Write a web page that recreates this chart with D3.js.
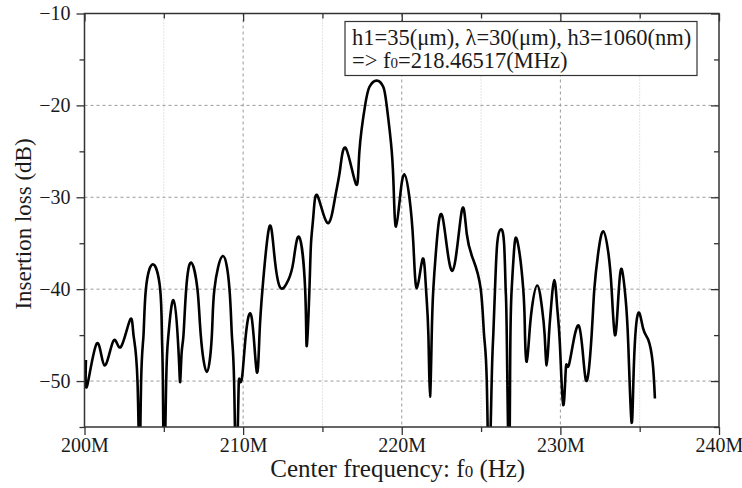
<!DOCTYPE html>
<html lang="en">
<head>
<meta charset="utf-8">
<title>Insertion loss</title>
<script src="https://cdn.jsdelivr.net/npm/d3@7"></script>
<style>
  body { margin: 0; background: #fff; }
  text { font-family: "Liberation Serif", "Times New Roman", serif; fill: #1a1a1a; }
</style>
</head>
<body>
<script>
// frequency (MHz) and insertion loss (dB); -60 marks nulls that drop below the frame
var freqMHz = [200.09, 200.17, 200.78, 201.26, 201.83, 202.29, 202.88, 203.09, 203.34, 203.47,
  203.57, 203.72, 203.87, 204.31, 204.77, 204.88, 204.94, 205.02, 205.15, 205.29,
  205.61, 205.92, 206.03, 206.12, 206.24, 206.41, 206.72, 207.12, 207.33, 207.71,
  208.03, 208.19, 208.72, 209.14, 209.29, 209.43, 209.56, 209.70, 209.77, 209.94,
  210.17, 210.54, 210.86, 211.03, 211.22, 211.64, 211.95, 212.33, 212.85, 213.17,
  213.53, 213.91, 214.01, 214.18, 214.28, 214.43, 214.68, 215.31, 215.80, 216.11,
  216.49, 217.12, 217.33, 217.69, 217.96, 218.42, 218.84, 219.05, 219.37, 219.51,
  219.64, 219.89, 220.16, 220.48, 220.73, 220.95, 221.32, 221.53, 221.68, 221.78,
  221.89, 221.99, 222.20, 222.58, 223.19, 223.78, 224.10, 224.51, 224.98, 225.19,
  225.36, 225.50, 225.67, 225.77, 225.88, 226.02, 226.24, 226.45, 226.55, 226.62,
  226.76, 226.84, 226.93, 227.07, 227.28, 227.66, 227.77, 227.88, 228.04, 228.21,
  228.54, 228.84, 229.01, 229.14, 229.28, 229.41, 229.62, 229.80, 229.97, 230.18,
  230.35, 230.56, 231.17, 231.61, 231.97, 232.14, 232.39, 232.70, 233.02, 233.23,
  233.44, 233.65, 233.86, 234.11, 234.28, 234.49, 234.64, 234.91, 235.22, 235.54,
  235.82, 235.96];
var lossDB = [-47.7, -50.5, -45.9, -48.3, -45.6, -46.3, -43.3, -45.0, -50.0, -60,
  -50, -45, -40, -37.3, -40, -45, -50, -60, -50, -45,
  -41.2, -46.5, -50.1, -47.0, -45, -40, -37.1, -40, -45, -49.0,
  -45, -40, -36.4, -40, -45, -50, -60, -52, -49.9, -49.5,
  -45, -43.1, -49.0, -45, -40, -33.3, -36, -39.8, -39.0, -37,
  -34.3, -40, -46.2, -40, -35, -32, -29.8, -32.8, -30, -27,
  -24.7, -28.6, -25, -20, -18, -17.3, -18, -20, -25, -30,
  -33.2, -30, -27.5, -30, -35, -39.9, -36.7, -40, -45, -51.7,
  -45, -40, -35, -32.2, -38.0, -31.5, -34, -36.8, -40, -45,
  -50, -60, -50, -45, -40, -35, -33.5, -35, -40, -45,
  -60, -47, -40, -36, -34.7, -40, -45, -47.9, -45, -42,
  -39.6, -42, -45, -48.3, -45, -42, -39.0, -42, -46, -52.6,
  -48.5, -48.1, -44.0, -49.9, -45, -40, -36, -33.7, -36, -40,
  -45.0, -41, -37.8, -41, -46, -54.5, -48, -42.6, -44.3, -45.5,
  -48, -51.9];

var xMajor = [200, 210, 220, 230, 240];
var xMinor = [205, 215, 225, 235];
var yMajor = [-10, -20, -30, -40, -50];
var yMinor = [-15, -25, -35, -45, -55];

var legendLines = ["h1=35(\u03bcm), \u03bb=30(\u03bcm), h3=1060(nm)", "=> f0=218.46517(MHz)"];

var width = 742, height = 488;
var pL = 84.5, pR = 719, pT = 13.5, pB = 427;

var x = d3.scaleLinear().domain([200, 240]).range([pL, pR]);
var y = d3.scaleLinear().domain([-55, -10]).range([pB, pT]);

var svg = d3.select("body").append("svg")
  .attr("width", width)
  .attr("height", height);

// grid
svg.append("g").selectAll("line")
  .data(xMinor).enter().append("line")
  .attr("x1", d => x(d)).attr("x2", d => x(d))
  .attr("y1", pT).attr("y2", pB)
  .attr("stroke", "#c8c8c8").attr("stroke-width", 1)
  .attr("stroke-dasharray", "1,2");
svg.append("g").selectAll("line")
  .data(xMajor.slice(1, -1)).enter().append("line")
  .attr("x1", d => x(d)).attr("x2", d => x(d))
  .attr("y1", pT).attr("y2", pB)
  .attr("stroke", "#9a9a9a").attr("stroke-width", 1)
  .attr("stroke-dasharray", "3,3");
svg.append("g").selectAll("line")
  .data(yMajor.slice(1)).enter().append("line")
  .attr("x1", pL).attr("x2", pR)
  .attr("y1", d => y(d)).attr("y2", d => y(d))
  .attr("stroke", "#9a9a9a").attr("stroke-width", 1)
  .attr("stroke-dasharray", "3,3");

// curve
svg.append("clipPath").attr("id", "clip")
  .append("rect").attr("x", pL).attr("y", pT)
  .attr("width", pR - pL).attr("height", pB - pT);

var pts = freqMHz.map((f, i) => [f, lossDB[i]]);
var line = d3.line()
  .x(d => x(d[0]))
  .y(d => y(d[1]))
  .curve(d3.curveNatural);

svg.append("path")
  .datum(pts)
  .attr("clip-path", "url(#clip)")
  .attr("d", line)
  .attr("fill", "none")
  .attr("stroke", "#000")
  .attr("stroke-width", 2.6)
  .attr("stroke-linejoin", "round");

// axes
var axisColor = "#333";
var xAxis = svg.append("g").attr("transform", "translate(0," + pB + ")")
  .call(d3.axisBottom(x).tickValues(xMajor).tickSize(8).tickPadding(3).tickFormat(d => d + "M"));
var xAxisMinor = svg.append("g").attr("transform", "translate(0," + pB + ")")
  .call(d3.axisBottom(x).tickValues(xMinor).tickSize(5).tickFormat(""));
var xTop = svg.append("g").attr("transform", "translate(0," + pT + ")")
  .call(d3.axisBottom(x).tickValues(xMajor).tickSize(8).tickFormat(""));
var xTopMinor = svg.append("g").attr("transform", "translate(0," + pT + ")")
  .call(d3.axisBottom(x).tickValues(xMinor).tickSize(5).tickFormat(""));

var yAxis = svg.append("g").attr("transform", "translate(" + pL + ",0)")
  .call(d3.axisLeft(y).tickValues(yMajor).tickSize(8).tickPadding(6));
var yAxisMinor = svg.append("g").attr("transform", "translate(" + pL + ",0)")
  .call(d3.axisLeft(y).tickValues(yMinor).tickSize(5).tickFormat(""));
var yRight = svg.append("g").attr("transform", "translate(" + pR + ",0)")
  .call(d3.axisLeft(y).tickValues(yMajor).tickSize(8).tickFormat(""));
var yRightMinor = svg.append("g").attr("transform", "translate(" + pR + ",0)")
  .call(d3.axisLeft(y).tickValues(yMinor).tickSize(5).tickFormat(""));

[xAxis, xAxisMinor, xTop, xTopMinor, yAxis, yAxisMinor, yRight, yRightMinor].forEach(function (g) {
  g.select(".domain").remove();
  g.selectAll("line").attr("stroke", axisColor).attr("stroke-width", 1.3);
  g.selectAll("text").attr("font-size", 20).attr("font-family", "Liberation Serif").attr("fill", "#1a1a1a");
});

svg.append("rect")
  .attr("x", pL).attr("y", pT)
  .attr("width", pR - pL).attr("height", pB - pT)
  .attr("fill", "none").attr("stroke", axisColor).attr("stroke-width", 1.5);

// legend box
svg.append("rect")
  .attr("x", 345).attr("y", 21.5)
  .attr("width", 352).attr("height", 54)
  .attr("fill", "#fff").attr("stroke", "#333").attr("stroke-width", 1.2);

svg.append("text")
  .attr("x", 352).attr("y", 45)
  .attr("font-size", 22.5)
  .text(legendLines[0]);

var l2 = svg.append("text").attr("x", 352).attr("y", 68).attr("font-size", 22.5);
l2.append("tspan").text("=> f");
l2.append("tspan").attr("font-size", 15).text("0");
l2.append("tspan").text(legendLines[1].slice(5));

// axis titles
svg.append("text")
  .attr("transform", "translate(31,224) rotate(-90)")
  .attr("text-anchor", "middle")
  .attr("font-size", 23)
  .text("Insertion loss (dB)");

var xt = svg.append("text")
  .attr("x", (pL + pR) / 2 - 4).attr("y", 477)
  .attr("text-anchor", "middle")
  .attr("font-size", 25);
xt.append("tspan").text("Center frequency: f");
xt.append("tspan").attr("font-size", 17).text("0");
xt.append("tspan").text(" (Hz)");
</script>
</body>
</html>
